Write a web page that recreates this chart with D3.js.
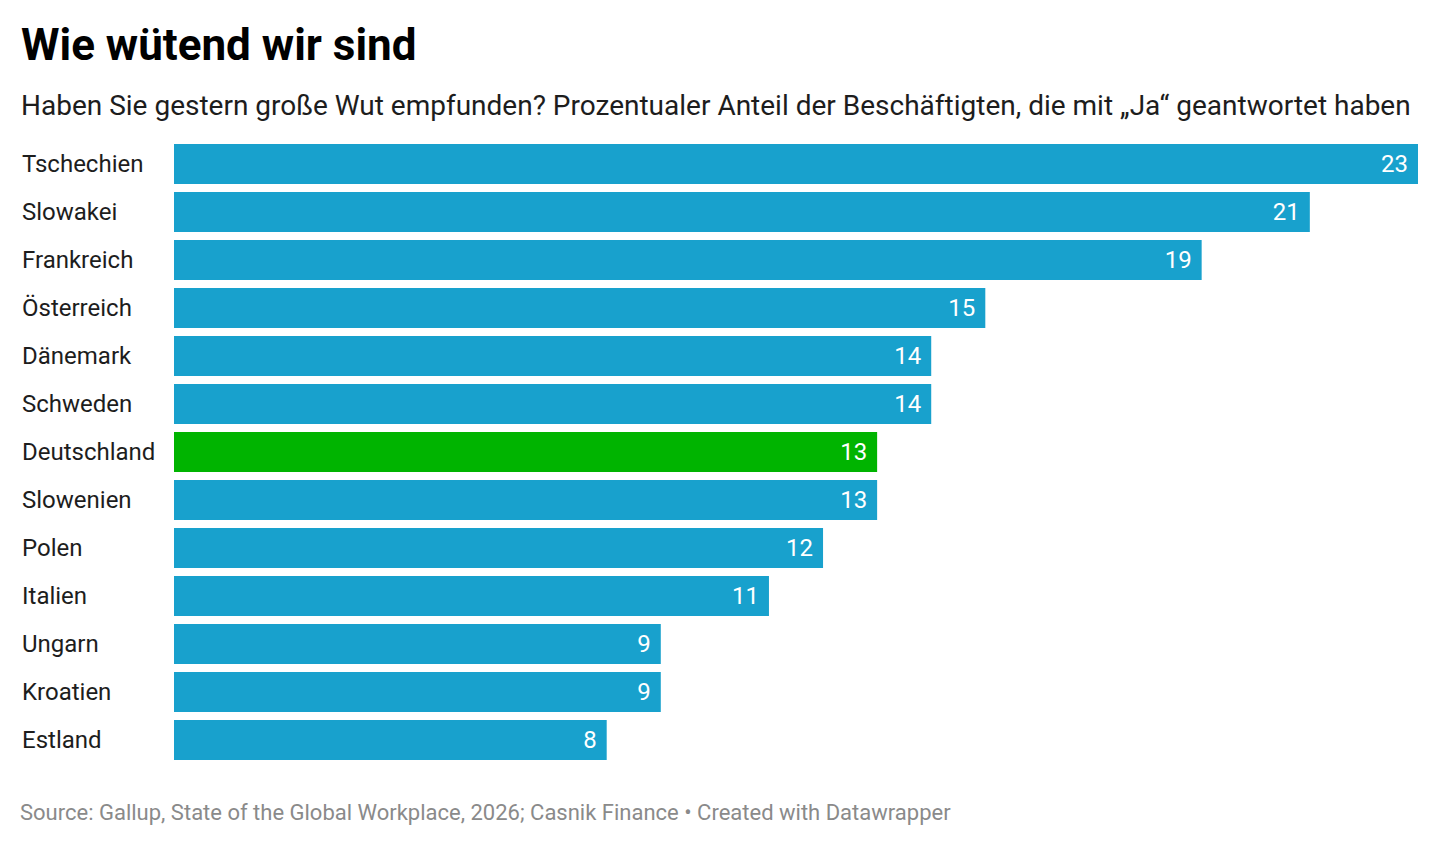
<!DOCTYPE html>
<html><head><meta charset="utf-8">
<script src="https://cdn.jsdelivr.net/npm/d3@7"></script>
<style>
html,body{margin:0;padding:0;background:#fff;}
svg{display:block;font-family:Roboto, "Noto Sans", sans-serif;}
</style></head>
<body>
<svg id="chart" width="1440" height="846"></svg>
<script>
const countries = ["Tschechien","Slowakei","Frankreich","Österreich","Dänemark","Schweden","Deutschland","Slowenien","Polen","Italien","Ungarn","Kroatien","Estland"];
const values = [23,21,19,15,14,14,13,13,12,11,9,9,8];
const highlight = ["Deutschland"];
const title = "Wie wütend wir sind";
const subtitle = "Haben Sie gestern große Wut empfunden? Prozentualer Anteil der Beschäftigten, die mit „Ja“ geantwortet haben";
const source = "Source: Gallup, State of the Global Workplace, 2026; Casnik Finance • Created with Datawrapper";

const svg = d3.select("#chart");
const data = countries.map((c,i)=>({c, v: values[i]}));

const x = d3.scaleLinear().domain([0, 23]).range([174, 1418]);
const yb = d3.scaleBand().domain(countries).range([144, 760]).paddingInner(8/48).paddingOuter(0);

svg.append("text").attr("x", 21).attr("y", 60).attr("font-size", 44).attr("font-weight", 700).attr("fill", "#000").text(title);
svg.append("text").attr("x", 21).attr("y", 115).attr("font-size", 28).attr("fill", "#1d1d1d").text(subtitle);

const g = svg.append("g");
g.selectAll("rect").data(data).join("rect")
  .attr("x", x(0)).attr("y", d=>yb(d.c))
  .attr("width", d=>x(d.v)-x(0)).attr("height", yb.bandwidth())
  .attr("fill", d=> highlight.includes(d.c) ? "#00b400" : "#18a1cd");

g.selectAll("text.lab").data(data).join("text").attr("class","lab")
  .attr("x", 22).attr("y", d=>yb(d.c)+yb.bandwidth()/2).attr("dy","0.35em")
  .attr("font-size", 24).attr("fill", "#1d1d1d").text(d=>d.c);

g.selectAll("text.val").data(data).join("text").attr("class","val")
  .attr("x", d=>x(d.v)-10).attr("y", d=>yb(d.c)+yb.bandwidth()/2).attr("dy","0.35em")
  .attr("text-anchor","end").attr("font-size", 24).attr("fill", "#fff").text(d=>d.v);

svg.append("text").attr("x", 20).attr("y", 820).attr("font-size", 22).attr("fill", "#8a8a8a").text(source);
</script>
</body></html>
